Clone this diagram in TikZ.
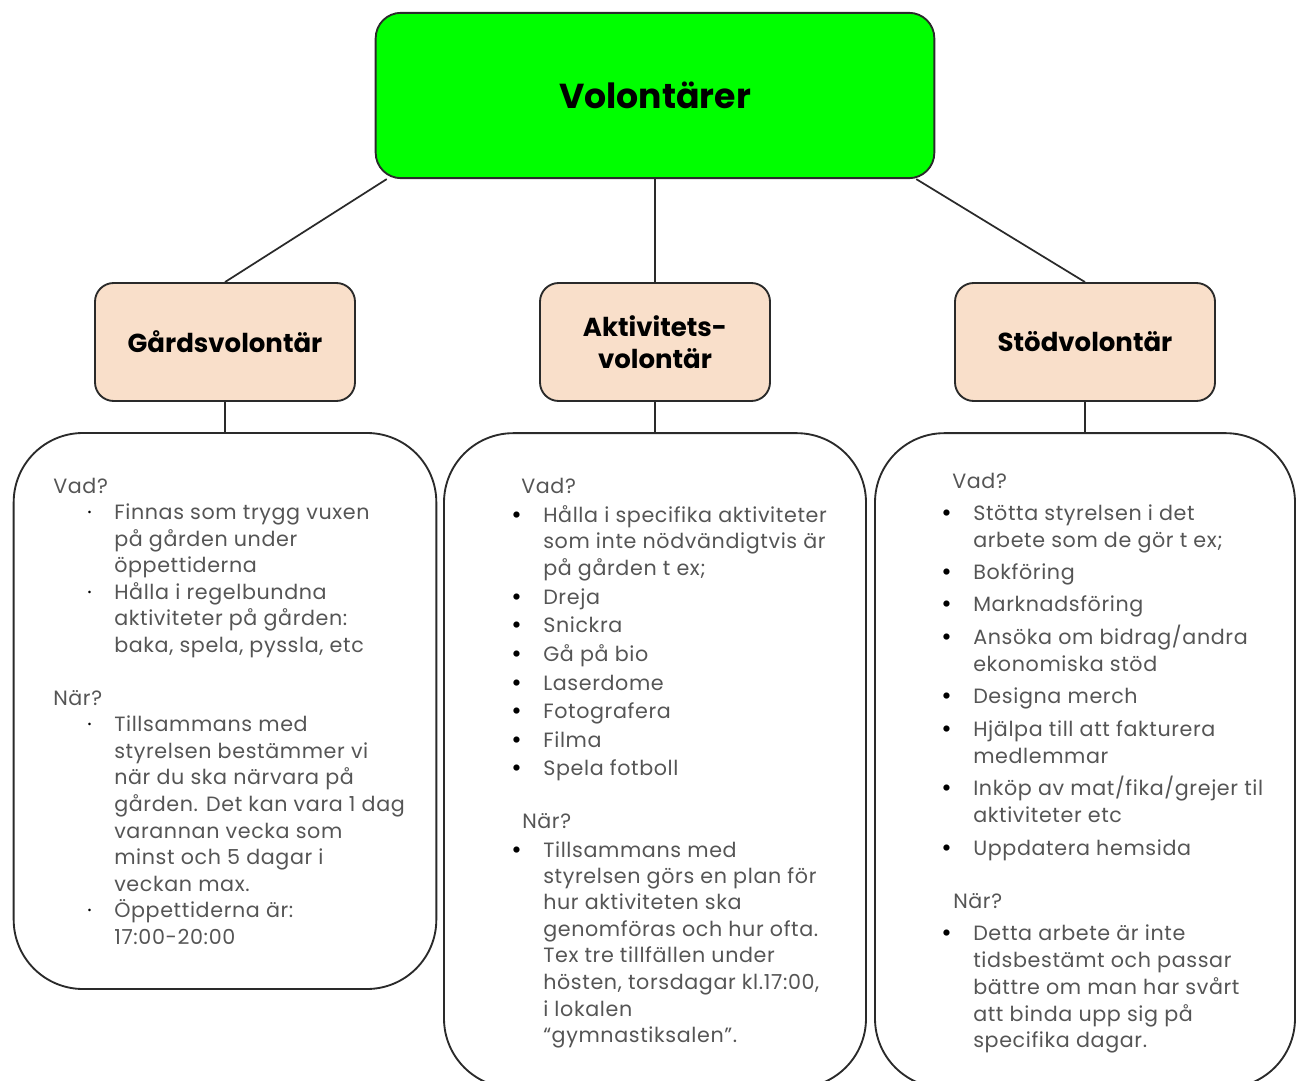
\documentclass[tikz,border=0pt]{standalone}
\usepackage{fontspec}
\setmainfont{Poppins}
\newfontfamily\bodyfont[LetterSpace=3]{Poppins}
\definecolor{topgreen}{HTML}{00FF00}
\definecolor{peach}{HTML}{F9DFCA}
\definecolor{txtgray}{HTML}{555555}
\definecolor{edge}{HTML}{2A2A2A}
\tikzset{
  topbox/.style={draw=edge, line width=1.4pt, fill=topgreen, rounded corners=19pt, inner sep=0pt,
    minimum width=419pt, minimum height=124pt, font=\fontsize{26}{30}\selectfont\bfseries},
  midbox/.style={draw=edge, line width=1.4pt, fill=peach, rounded corners=14pt, inner sep=0pt,
    minimum height=88.5pt, align=center, font=\fontsize{19.5}{24}\selectfont\bfseries},
  infobox/.style={draw=edge, line width=1.4pt, rounded corners=52pt, inner sep=0pt},
  conn/.style={draw=edge, line width=1.3pt},
  body/.style={anchor=base west, inner sep=0pt, text=txtgray, font=\bodyfont\fontsize{15.5}{18}\selectfont},
  bul/.style={anchor=base west, inner sep=0pt, text=black, font=\fontsize{15.5}{18}\selectfont},
  bigbul/.style={anchor=base west, inner sep=0pt, text=black, font=\fontsize{19}{20}\selectfont},
}
\begin{document}
\begin{tikzpicture}[x=0.75pt,y=-0.75pt]
\useasboundingbox (0,0) rectangle (1297,1081);
% boxes
\node[topbox] (top) at (655,95.5) {Volontärer};
\node[midbox, minimum width=195pt] (g) at (225,342) {Gårdsvolontär};
\node[midbox, minimum width=172.5pt] (a) at (655,342) {Aktivitets-\\volontär};
\node[midbox, minimum width=195pt] (s) at (1085,342) {Stödvolontär};
\node[infobox, minimum width=317pt, minimum height=417pt] (gb) at (225,711) {};
\node[infobox, minimum width=316.5pt, minimum height=491pt] (ab) at (655,760.5) {};
\node[infobox, minimum width=315pt, minimum height=491pt] (sb) at (1085,760.5) {};
% connectors
\draw[conn] ([shift={(12,0)}]top.south west) -- (g.north);
\draw[conn] (top.south) -- (a.north);
\draw[conn] ([shift={(-19,0)}]top.south east) -- (s.north);
\draw[conn] (g.south) -- (gb.north);
\draw[conn] (a.south) -- (ab.north);
\draw[conn] (s.south) -- (sb.north);
% left box text
\node[body] (g1) at (53,493) {Vad?};
\node[bul] (gb1) at (87,519) {·};
\node[body] (g2) at (114,519) {Finnas som trygg vuxen};
\node[body] (g3) at (114,546) {på gården under};
\node[body] (g4) at (114,572) {öppettiderna};
\node[bul] (gb2) at (87,599) {·};
\node[body] (g5) at (114,599) {Hålla i regelbundna};
\node[body] (g6) at (114,625) {aktiviteter på gården:};
\node[body] (g7) at (114,652) {baka, spela, pyssla, etc};
\node[body] (g8) at (53,705) {När?};
\node[bul] (gb3) at (87,731) {·};
\node[body] (g9) at (114,731) {Tillsammans med};
\node[body] (g10) at (114,758) {styrelsen bestämmer vi};
\node[body] (g11) at (114,784) {när du ska närvara på};
\node[body] (g12) at (114,811) {gården. Det kan vara 1 dag};
\node[body] (g13) at (114,838) {varannan vecka som};
\node[body] (g14) at (114,864) {minst och 5 dagar i};
\node[body] (g15) at (114,891) {veckan max.};
\node[bul] (gb4) at (87,917) {·};
\node[body] (g16) at (114,917) {Öppettiderna är:};
\node[body] (g17) at (114,944) {17:00-20:00};
% middle box text
\node[body] (a1) at (521,493) {Vad?};
\node[bigbul] (ab1) at (511,523) {\textbullet};
\node[body] (a2) at (543,522) {Hålla i specifika aktiviteter};
\node[body] (a3) at (543,548) {som inte nödvändigtvis är};
\node[body] (a4) at (543,575) {på gården t ex;};
\node[bigbul] (ab2) at (511,605) {\textbullet};
\node[body] (a5) at (543,604) {Dreja};
\node[bigbul] (ab3) at (511,633) {\textbullet};
\node[body] (a6) at (543,632) {Snickra};
\node[bigbul] (ab4) at (511,662) {\textbullet};
\node[body] (a7) at (543,661) {Gå på bio};
\node[bigbul] (ab5) at (511,691) {\textbullet};
\node[body] (a8) at (543,690) {Laserdome};
\node[bigbul] (ab6) at (511,719) {\textbullet};
\node[body] (a9) at (543,718) {Fotografera};
\node[bigbul] (ab7) at (511,748) {\textbullet};
\node[body] (a10) at (543,747) {Filma};
\node[bigbul] (ab8) at (511,776) {\textbullet};
\node[body] (a11) at (543,775) {Spela fotboll};
\node[body] (a12) at (522,828) {När?};
\node[bigbul] (ab9) at (511,858) {\textbullet};
\node[body] (a13) at (543,857) {Tillsammans med};
\node[body] (a14) at (543,883) {styrelsen görs en plan för};
\node[body] (a15) at (543,909) {hur aktiviteten ska};
\node[body] (a16) at (543,936) {genomföras och hur ofta.};
\node[body] (a17) at (543,962) {Tex tre tillfällen under};
\node[body] (a18) at (543,989) {hösten, torsdagar kl.17:00,};
\node[body] (a19) at (543,1016) {i lokalen};
\node[body] (a20) at (543,1042) {“gymnastiksalen”.};
% right box text
\node[body] (s1) at (952,488) {Vad?};
\node[bigbul] (sb1) at (941,521) {\textbullet};
\node[body] (s2) at (973,520) {Stötta styrelsen i det};
\node[body] (s3) at (973,547) {arbete som de gör t ex;};
\node[bigbul] (sb2) at (941,580) {\textbullet};
\node[body] (s4) at (973,579) {Bokföring};
\node[bigbul] (sb3) at (941,612) {\textbullet};
\node[body] (s5) at (973,611) {Marknadsföring};
\node[bigbul] (sb4) at (941,645) {\textbullet};
\node[body] (s6) at (973,644) {Ansöka om bidrag/andra};
\node[body] (s7) at (973,671) {ekonomiska stöd};
\node[bigbul] (sb5) at (941,704) {\textbullet};
\node[body] (s8) at (973,703) {Designa merch};
\node[bigbul] (sb6) at (941,737) {\textbullet};
\node[body] (s9) at (973,736) {Hjälpa till att fakturera};
\node[body] (s10) at (973,763) {medlemmar};
\node[bigbul] (sb7) at (941,796) {\textbullet};
\node[body] (s11) at (973,795) {Inköp av mat/fika/grejer til};
\node[body] (s12) at (973,822) {aktiviteter etc};
\node[bigbul] (sb8) at (941,856) {\textbullet};
\node[body] (s13) at (973,855) {Uppdatera hemsida};
\node[body] (s14) at (953,908) {När?};
\node[bigbul] (sb9) at (941,941) {\textbullet};
\node[body] (s15) at (973,940) {Detta arbete är inte};
\node[body] (s16) at (973,967) {tidsbestämt och passar};
\node[body] (s17) at (973,994) {bättre om man har svårt};
\node[body] (s18) at (973,1021) {att binda upp sig på};
\node[body] (s19) at (973,1047) {specifika dagar.};
\end{tikzpicture}
\end{document}
